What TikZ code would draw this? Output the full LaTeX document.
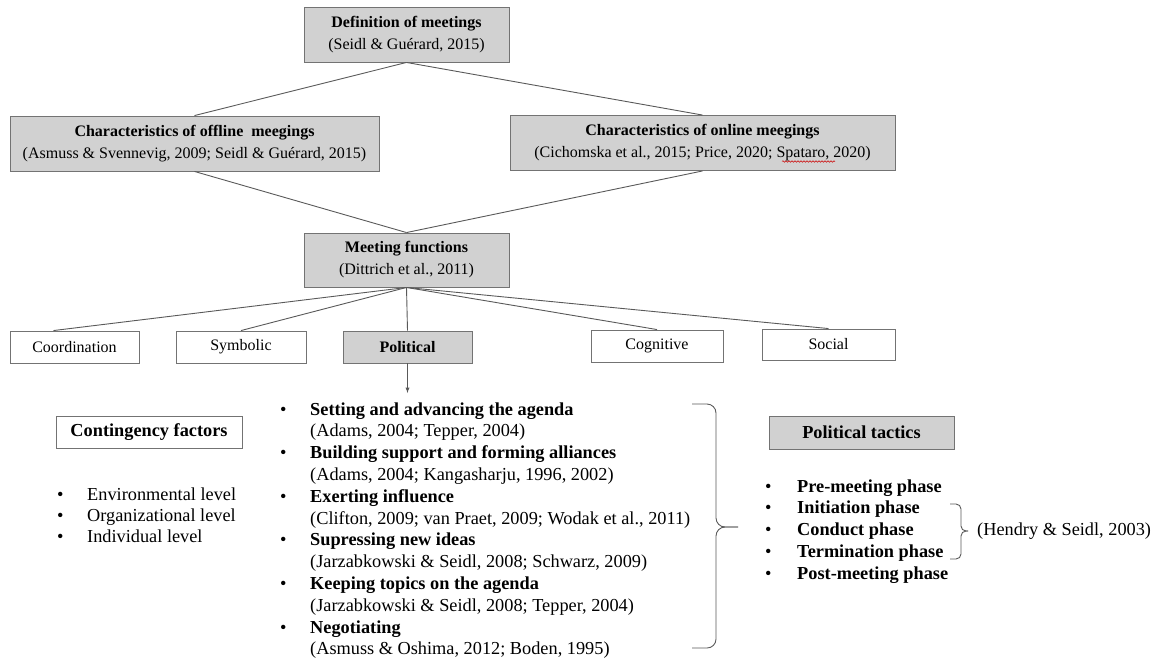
\documentclass[tikz,border=0pt]{standalone}
\usepackage{fontspec}
\setmainfont{Liberation Serif}
\usetikzlibrary{positioning,decorations.pathmorphing}

\tikzset{
  greybox/.style={draw=black!55, fill=black!18, line width=0.9pt, align=center, inner sep=1pt},
  whitebox/.style={draw=black!55, fill=white, line width=0.9pt, align=center, inner sep=1pt},
  link/.style={draw=black!65, line width=0.9pt},
  plainlist/.style={anchor=base west, align=left, inner sep=0pt, font=\fontsize{18.3}{21.8}\selectfont},
}
\newcommand{\bul}[1]{\makebox[#1][l]{\textbullet}}

\begin{document}
\begin{tikzpicture}[x=1pt,y=-1pt,font=\fontsize{16}{22}\selectfont]
\useasboundingbox (0,0) rectangle (1164,662);

% tree of boxes
\node (def) [greybox, minimum width=205pt, minimum height=55pt] at (406.5,34.5)
  {\textbf{Definition of meetings}\\(Seidl \& Guérard, 2015)};
\node (offline) [greybox, minimum width=369pt, minimum height=55pt] at (194.5,143.5)
  {\textbf{Characteristics of offline\ \ meegings}\\(Asmuss \& Svennevig, 2009; Seidl \& Guérard, 2015)};
\node (online) [greybox, minimum width=385pt, minimum height=55pt] at (702.5,143)
  {\textbf{Characteristics of online meegings}\\(Cichomska et al., 2015; Price, 2020; Spataro, 2020)};
\node (functions) [greybox, minimum width=205pt, minimum height=54pt] at (406.5,260)
  {\textbf{Meeting functions}\\(Dittrich et al., 2011)};

\node (coordination) [whitebox, minimum width=129pt, minimum height=32pt] at (74.5,347) {Coordination};
\node (symbolic) [whitebox, minimum width=130pt, minimum height=32pt] at (241,347) {Symbolic};
\node (political) [greybox, minimum width=129pt, minimum height=32pt] at (407.5,347) {\textbf{Political}};
\node (cognitive) [whitebox, minimum width=132pt, minimum height=32pt] at (657,346) {Cognitive};
\node (social) [whitebox, minimum width=133pt, minimum height=31pt] at (828.5,344.5) {Social};
\coordinate (arrowtip) at (407.5,393);

\path[link] (def.south) edge (offline.north)
    (def.south) edge (online.north)
    (offline.south) edge (functions.north)
    (online.south) edge (functions.north)
    (functions.south) edge ([xshift=-21pt]coordination.north)
    (functions.south) edge (symbolic.north)
    (functions.south) edge (political.north)
    (functions.south) edge (cognitive.north)
    (functions.south) edge (social.north);
\draw[link,-latex] (political) -- (arrowtip);

% spell check mark
\draw[red!80!black, line width=0.5pt, decorate, decoration={snake, amplitude=0.8pt, segment length=3pt}]
  (782,161.5) -- (835,161.5);

% contingency factors
\node (contingency) [whitebox, minimum width=186pt, minimum height=32pt, font=\fontsize{18.3}{22}\selectfont] at (149,432) {\textbf{Contingency factors}};
\node (levels) [plainlist, font=\fontsize{18.3}{21}\selectfont] at (57,542)
  {\bul{30pt}Environmental level\\ \bul{30pt}Organizational level\\ \bul{30pt}Individual level};

% political behaviours
\node (behaviours) [plainlist] at (280,654.8)
  {\bul{30pt}\textbf{Setting and advancing the agenda}\\
   \hspace*{30pt}(Adams, 2004; Tepper, 2004)\\
   \bul{30pt}\textbf{Building support and forming alliances}\\
   \hspace*{30pt}(Adams, 2004; Kangasharju, 1996, 2002)\\
   \bul{30pt}\textbf{Exerting influence}\\
   \hspace*{30pt}(Clifton, 2009; van Praet, 2009; Wodak et al., 2011)\\
   \bul{30pt}\textbf{Supressing new ideas}\\
   \hspace*{30pt}(Jarzabkowski \& Seidl, 2008; Schwarz, 2009)\\
   \bul{30pt}\textbf{Keeping topics on the agenda}\\
   \hspace*{30pt}(Jarzabkowski \& Seidl, 2008; Tepper, 2004)\\
   \bul{30pt}\textbf{Negotiating}\\
   \hspace*{30pt}(Asmuss \& Oshima, 2012; Boden, 1995)};
\coordinate (bigtop) at (692,404);
\coordinate (bigbot) at (692,648);
\coordinate (bigtip) at (738,527);
\draw[link, rounded corners=9pt] (bigtop) -| (716,527) -- (bigtip);
\draw[link, rounded corners=9pt] (bigbot) -| (716,527) -- (bigtip);

% political tactics
\node (tactics) [greybox, minimum width=185pt, minimum height=33pt, font=\fontsize{18.3}{22}\selectfont] at (861.5,432.5) {\textbf{Political tactics}};
\node (phases) [plainlist] at (765,579.2)
  {\bul{32pt}\textbf{Pre-meeting phase}\\ \bul{32pt}\textbf{Initiation phase}\\
   \bul{32pt}\textbf{Conduct phase}\\ \bul{32pt}\textbf{Termination phase}\\
   \bul{32pt}\textbf{Post-meeting phase}};
\coordinate (smalltop) at (950,504);
\coordinate (smallbot) at (950,559);
\coordinate (smalltip) at (968,531);
\draw[link, rounded corners=5pt] (smalltop) -| (961,531) -- (smalltip);
\draw[link, rounded corners=5pt] (smallbot) -| (961,531) -- (smalltip);
\node (hendry) [anchor=west, inner sep=0pt, font=\fontsize{18.3}{22}\selectfont] at (977,531) {(Hendry \& Seidl, 2003)};
\end{tikzpicture}
\end{document}
